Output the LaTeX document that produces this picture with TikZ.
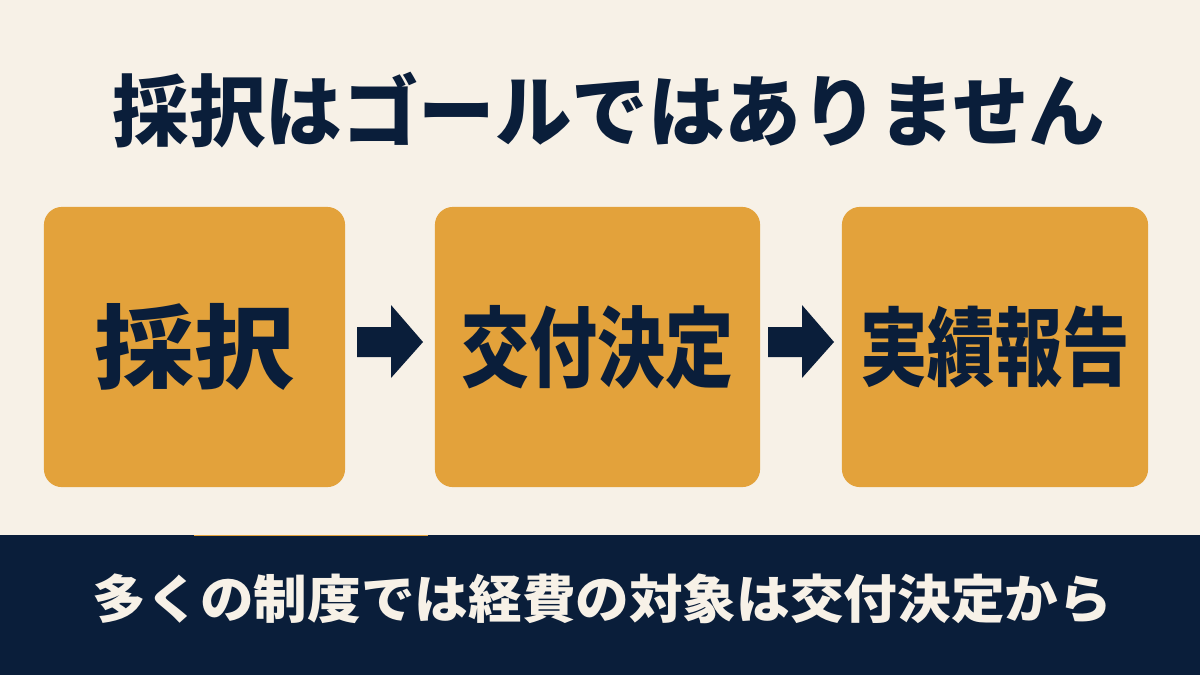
\documentclass[tikz,border=0pt]{standalone}
\usepackage{fontspec}
\usepackage{graphicx}
\newfontfamily\cjk{Noto Sans CJK JP}
\usetikzlibrary{calc}
\definecolor{cream}{HTML}{F7F1E7}
\definecolor{gold}{HTML}{E3A23B}
\definecolor{navy}{HTML}{0A1E3A}
\newcommand{\fit}[3]{\resizebox*{#1cm}{#2cm}{\cjk\bfseries #3}}
\begin{document}
\begin{tikzpicture}[x=0.01cm,y=-0.01cm,
  stagebox/.style={fill=gold, draw=none, rounded corners=0.18cm, inner sep=0pt, minimum height=2.8cm, text=navy},
  blockarrow/.style={fill=navy},
  txt/.style={inner sep=0pt}]
\useasboundingbox (0,0) rectangle (1200,675);
\fill[cream] (0,0) rectangle (1200,675);
% title
\node[txt, text=navy] (title) at (609,110) {\fit{9.92}{0.76}{採択はゴールではありません}};
% boxes
\node[stagebox, minimum width=3.01cm] (b1) at (194.5,347) {\raisebox{0.035cm}{\fit{2.00}{0.87}{採択}}};
\node[stagebox, minimum width=3.25cm] (b2) at (597.5,347) {\raisebox{0.035cm}{\fit{2.72}{0.84}{交付決定}}};
\node[stagebox, minimum width=3.06cm] (b3) at (995,347) {\raisebox{0.035cm}{\fit{2.69}{0.82}{実績報告}}};
% arrows
\coordinate (m1) at ($(b1.east)!0.5!(b2.west)+(0,-5)$);
\coordinate (m2) at ($(b2.east)!0.5!(b3.west)+(0,-5)$);
\foreach \m in {m1,m2}{
  \fill[blockarrow, shift={(\m)}] (-33,-15) -- (1,-15) -- (1,-37) -- (33,0) -- (1,36) -- (1,15) -- (-33,15) -- cycle;
}
% bottom band
\fill[navy] (0,535) rectangle (1200,675);
\draw[gold, line width=0.3pt] (194,535.2) -- (428,535.2);
\node[txt, text=cream] (note) at (602.5,598.5) {\fit{10.19}{0.50}{多くの制度では経費の対象は交付決定から}};
\end{tikzpicture}
\end{document}
